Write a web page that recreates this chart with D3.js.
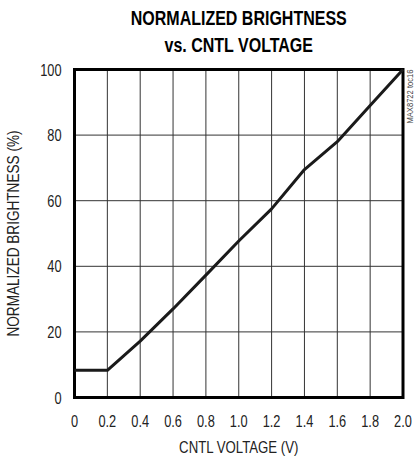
<!DOCTYPE html>
<html>
<head>
<meta charset="utf-8">
<script src="https://cdn.jsdelivr.net/npm/d3@7"></script>
<style>
  body { margin: 0; background: #fff; }
  svg text { font-family: "Liberation Sans", Arial, sans-serif; }
</style>
</head>
<body>
<div id="chart"></div>
<script>
// data
var voltage = [0, 0.2, 0.4, 0.6, 0.8, 1.0, 1.2, 1.4, 1.6, 1.8, 2.0];
var brightness = [8.3, 8.3, 17.2, 27, 37.3, 47.7, 57.5, 69.5, 78, 89, 100];
var xTicks = [0, 0.2, 0.4, 0.6, 0.8, 1.0, 1.2, 1.4, 1.6, 1.8, 2.0];
var yTicks = [0, 20, 40, 60, 80, 100];
var titleLines = ["NORMALIZED BRIGHTNESS", "vs. CNTL VOLTAGE"];

var margin = {top: 69.5, right: 14, bottom: 61.5, left: 74.5},
    W = 417, H = 459,
    width = W - margin.left - margin.right,
    height = H - margin.top - margin.bottom;

// no narrow font installed -> squeeze text horizontally
var narrow = 0.8;

var svg = d3.select("#chart")
    .append("svg")
    .attr("width", W)
    .attr("height", H)
    .append("g")
    .attr("transform", "translate(" + margin.left + "," + margin.top + ")");

function narrowText(parent, px, py, str, size, anchor, rot) {
    var g = parent.append("g")
        .attr("transform", "translate(" + px + "," + py + ")" + (rot ? " rotate(" + rot + ")" : "") + " scale(" + narrow + ",1)");
    return g.append("text")
        .attr("text-anchor", anchor || "middle")
        .attr("font-size", size + "px")
        .attr("fill", "#222")
        .text(str);
}

var x = d3.scaleLinear().domain([0, 2]).range([0, width]);
var y = d3.scaleLinear().domain([0, 100]).range([height, 0]);

// grid
svg.append("g")
    .selectAll("line")
    .data(xTicks.slice(1, -1))
    .enter().append("line")
    .attr("x1", function (d) { return x(d); })
    .attr("x2", function (d) { return x(d); })
    .attr("y1", 0).attr("y2", height)
    .attr("stroke", "#333").attr("stroke-width", 1);

svg.append("g")
    .selectAll("line")
    .data(yTicks.slice(1, -1))
    .enter().append("line")
    .attr("y1", function (d) { return y(d); })
    .attr("y2", function (d) { return y(d); })
    .attr("x1", 0).attr("x2", width)
    .attr("stroke", "#333").attr("stroke-width", 1);

// Rahmen
svg.append("rect")
    .attr("width", width).attr("height", height)
    .attr("fill", "none").attr("stroke", "#000").attr("stroke-width", 3);

// curve
var line = d3.line()
    .x(function (d) { return x(d[0]); })
    .y(function (d) { return y(d[1]); });

svg.append("path")
    .datum(d3.zip(voltage, brightness))
    .attr("d", line)
    .attr("fill", "none")
    .attr("stroke", "#1a1a1a")
    .attr("stroke-width", 3)
    .attr("stroke-linejoin", "round");

// x tick labels
xTicks.forEach(function (d) {
    narrowText(svg, x(d), height + 29, d === 0 ? "0" : d.toFixed(1), 16, "middle");
});

// y tick labels
yTicks.forEach(function (d) {
    narrowText(svg, -13, y(d) + 6, String(d), 16, "end");
});

// axis labels
narrowText(svg, width / 2, height + 55, "CNTL VOLTAGE (V)", 16.5, "middle");
narrowText(svg, -margin.left + 18.5, height / 2, "NORMALIZED BRIGHTNESS (%)", 17, "middle", -90);

// title
titleLines.forEach(function (t, i) {
    narrowText(svg, width / 2, -margin.top + 25 + i * 27, t, 20, "middle")
        .attr("font-weight", "bold")
        .attr("fill", "#000");
});

// side note
narrowText(svg, width + 10, 0, "MAX8722 toc16", 9.5, "end", -90)
    .attr("fill", "#444");
</script>
</body>
</html>
